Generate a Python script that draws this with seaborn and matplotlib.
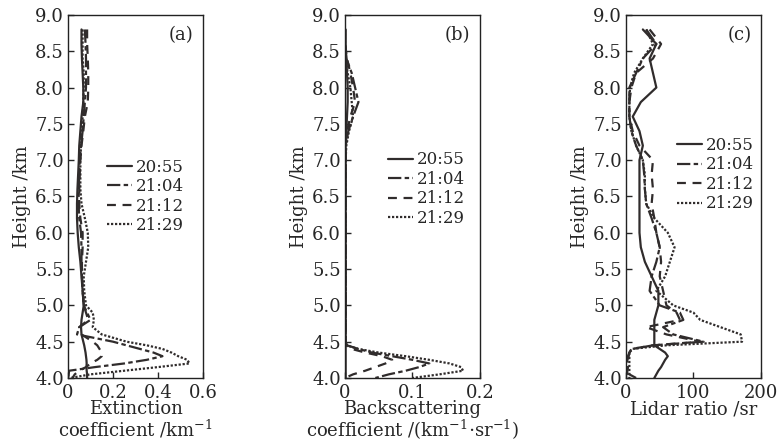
import numpy as np
import pandas as pd
import seaborn as sns
import matplotlib
matplotlib.use("Agg")
import matplotlib.pyplot as plt
from matplotlib.ticker import FuncFormatter

# common height grid (km), top to bottom
heights = [8.8, 8.6, 8.4, 8.2, 8.0, 7.8, 7.6, 7.4, 7.2, 7.0, 6.8, 6.6, 6.4, 6.2,
           6.0, 5.8, 5.6, 5.4, 5.2, 5.0, 4.9, 4.8, 4.7, 4.6, 4.5, 4.45, 4.4, 4.35,
           4.3, 4.25, 4.2, 4.15, 4.1, 4.05, 4.0]
times = ["20:55", "21:04", "21:12", "21:29"]

# (a) extinction coefficient /km^-1
ext_2055 = [.060, .060, .062, .065, .068, .068, .060, .055, .050, .048, .045, .042, .040, .040,
            .043, .048, .055, .060, .065, .070, .065, .060, .058, .060, .068, .072, .075, .078,
            .080, .082, .083, .082, .083, .085, .085]
ext_2104 = [.075, .078, .080, .080, .080, .075, .070, .065, .058, .052, .050, .048, .047, .050,
            .058, .060, .060, .062, .065, .070, .085, .100, .050, .040, .200, .260, .320, .380,
            .420, .350, .250, .120, .005, .003, .002]
ext_2112 = [.085, .085, .088, .090, .090, .088, .075, .068, .060, .055, .052, .050, .050, .055,
            .065, .065, .062, .062, .065, .070, .080, .090, .050, .060, .110, .130, .140, .150,
            .150, .130, .100, .080, .050, .030, .020]
ext_2129 = [.065, .065, .065, .070, .070, .068, .065, .062, .058, .055, .055, .055, .060, .075,
            .088, .090, .080, .070, .072, .080, .110, .115, .110, .150, .260, .350, .420, .460,
            .490, .530, .540, .400, .250, .100, .010]

# (b) backscattering coefficient /(km^-1 sr^-1)
bsc_2055 = [.001, .001, .002, .003, .004, .004, .003, .002, .001, .001, .001, .001, .001, .001,
            .001, .001, .001, .001, .001, .001, .001, .001, .001, .001, .001, .001, .001, .001,
            .001, .001, .001, .001, .001, .001, .001]
bsc_2104 = [.000, .000, .002, .010, .015, .020, .012, .005, .001, .001, .001, .001, .001, .001,
            .001, .001, .001, .001, .001, .001, .001, .001, .001, .001, .001, .003, .020, .040,
            .070, .100, .125, .110, .090, .065, .045]
bsc_2112 = [.000, .000, .003, .008, .012, .015, .008, .003, .001, .001, .001, .001, .001, .001,
            .001, .001, .001, .001, .001, .001, .001, .001, .001, .001, .001, .002, .010, .030,
            .055, .070, .060, .045, .030, .012, .000]
bsc_2129 = [.000, .000, .001, .004, .008, .010, .012, .006, .002, .001, .001, .001, .001, .001,
            .001, .001, .001, .001, .001, .001, .001, .001, .001, .001, .001, .002, .020, .050,
            .090, .125, .155, .172, .175, .140, .100]

# (c) lidar ratio /sr
lr_2055 = [25, 45, 35, 40, 45, 22, 10, 20, 25, 20, 20, 20, 20, 20,
           20, 22, 28, 38, 48, 48, 45, 42, 42, 42, 42, 42, 50, 58,
           62, 58, 55, 52, 48, 45, 42]
lr_2104 = [30, 45, 25, 15, 5, 5, 5, 8, 15, 25, 27, 28, 30, 38,
           45, 50, 45, 38, 35, 50, 80, 85, 55, 70, 115, 40, 10, 5,
           3, 2, 2, 2, 2, 5, 15]
lr_2112 = [35, 52, 40, 15, 8, 5, 5, 10, 20, 40, 38, 40, 38, 42,
           45, 50, 52, 50, 55, 60, 75, 80, 30, 60, 110, 40, 8, 5,
           4, 3, 3, 3, 2, 2, 2]
lr_2129 = [30, 40, 25, 12, 6, 5, 5, 8, 15, 25, 28, 28, 30, 42,
           62, 72, 65, 58, 45, 70, 100, 110, 140, 170, 172, 60, 8, 5,
           5, 5, 5, 5, 5, 5, 5]

sns.set_style("ticks")
plt.rcParams["font.family"] = ["DejaVu Serif"]
plt.rcParams["mathtext.fontset"] = "dejavuserif"
plt.rcParams["axes.linewidth"] = 1.0

line_color = "#302c2c"
dash_styles = {"20:55": None, "21:04": (6, 1.5, 2, 1.5),
               "21:12": (4, 3), "21:29": (1, 0.8)}

panels = [
    ("(a)", [ext_2055, ext_2104, ext_2112, ext_2129], [0, 0.2, 0.4, 0.6], (0, 0.6),
     "Extinction\ncoefficient /km$^{-1}$", (0.24, 0.5)),
    ("(b)", [bsc_2055, bsc_2104, bsc_2112, bsc_2129], [0, 0.1, 0.2], (0, 0.2),
     "Backscattering\ncoefficient /(km$^{-1}$$\\cdot$sr$^{-1}$)", (0.27, 0.52)),
    ("(c)", [lr_2055, lr_2104, lr_2112, lr_2129], [0, 100, 200], (0, 200),
     "Lidar ratio /sr", (0.33, 0.56)),
]
lefts = [0.0874, 0.4434, 0.8046]

fig = plt.figure(figsize=(7.78, 4.46), dpi=100)
for i, (tag, series, xticks, xlim, xlabel, leg_pos) in enumerate(panels):
    ax = fig.add_axes([lefts[i], 0.1525, 0.1735, 0.814])
    for t, vals in zip(times, series):
        df = pd.DataFrame({"height": heights, "value": vals})
        sns.lineplot(data=df, x="value", y="height", sort=False, estimator=None,
                     color=line_color, lw=1.6, ax=ax, label=t)
        if dash_styles[t] is not None:
            ax.get_lines()[-1].set_dashes(dash_styles[t])
    ax.set_xlim(*xlim)
    ax.set_ylim(4.0, 9.0)
    ax.set_xticks(xticks)
    ax.set_yticks(np.arange(4.0, 9.01, 0.5))
    ax.xaxis.set_major_formatter(FuncFormatter(lambda v, p: "0" if v == 0 else f"{v:g}"))
    ax.yaxis.set_major_formatter(FuncFormatter(lambda v, p: f"{v:.1f}"))
    ax.tick_params(direction="in", labelsize=13, length=4, width=1)
    ax.tick_params(axis="x", pad=4)
    ax.tick_params(axis="y", pad=3)
    ax.set_xlabel(xlabel, fontsize=13, linespacing=1.0, labelpad=-1)
    ax.set_ylabel("Height /km", fontsize=13, labelpad=3)
    ax.text(0.93, 0.97, tag, transform=ax.transAxes, ha="right", va="top", fontsize=13)
    for s in ax.spines.values():
        s.set_visible(True)
        s.set_color("#222222")
    ax.legend(loc="center left", bbox_to_anchor=leg_pos, frameon=False, fontsize=12,
              handlelength=1.5, handletextpad=0.2, labelspacing=0.15, borderaxespad=0)

fig.savefig("out.png", dpi=100)
